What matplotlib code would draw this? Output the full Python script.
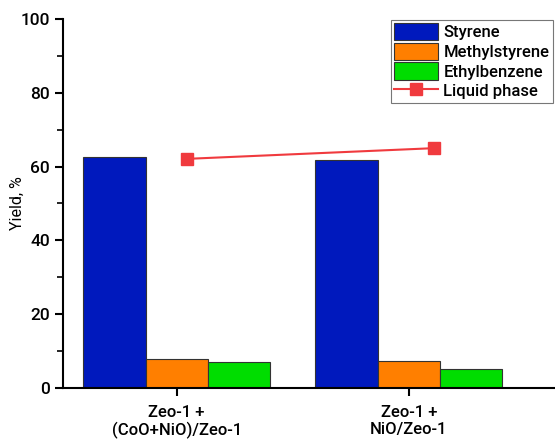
import matplotlib
matplotlib.use("Agg")
import matplotlib.pyplot as plt
import numpy as np

categories = ["Zeo-1 +\n(CoO+NiO)/Zeo-1", "Zeo-1 +\nNiO/Zeo-1"]
styrene = [62.6, 61.9]
methylstyrene = [7.8, 7.4]
ethylbenzene = [7.0, 5.1]
liquid_x = [0.045, 1.11]
liquid_phase = [62.1, 65.0]

plt.rcParams['font.family'] = ['Roboto', 'DejaVu Sans']
plt.rcParams['font.weight'] = 'medium'

fig = plt.figure(figsize=(5.55, 4.4), dpi=100)
ax = fig.add_axes([63/555, 1-388/440, 1-63/555, (388-19)/440])

x = np.arange(len(categories))
w = 0.268
b1 = ax.bar(x - w, styrene, w, color='#0019BD', edgecolor='#333333', linewidth=0.8, label='Styrene', zorder=2)
b2 = ax.bar(x, methylstyrene, w, color='#FF7F00', edgecolor='#333333', linewidth=0.8, label='Methylstyrene', zorder=2)
b3 = ax.bar(x + w, ethylbenzene, w, color='#00DD00', edgecolor='#333333', linewidth=0.8, label='Ethylbenzene', zorder=2)
l1, = ax.plot(liquid_x, liquid_phase, color='#F03A3E', marker='s', markersize=8, linewidth=1.5, label='Liquid phase', zorder=3)

ax.set_xlim(-0.49, 1.63)
ax.set_ylim(0, 100)
ax.set_yticks([0, 20, 40, 60, 80, 100])
ax.set_yticks([10, 30, 50, 70, 90], minor=True)
ax.set_xticks(x)
ax.set_xticklabels(categories, fontsize=12)
ax.tick_params(axis='y', labelsize=12.5, width=1.5, length=6)
ax.tick_params(axis='y', which='minor', width=1.2, length=4)
ax.tick_params(axis='x', width=1.5, length=6, pad=6)
for s in ['top', 'right']:
    ax.spines[s].set_visible(False)
for s in ['left', 'bottom']:
    ax.spines[s].set_linewidth(1.5)
ax.set_ylabel('Yield, %', fontsize=11.5)
ax.yaxis.set_label_coords(-0.077, 0.5)

leg = ax.legend([b1, b2, b3, l1], ['Styrene', 'Methylstyrene', 'Ethylbenzene', 'Liquid phase'],
                loc='upper right', bbox_to_anchor=(0.997, 1.0), fontsize=12, frameon=True, fancybox=False,
                edgecolor='#555555', handlelength=2.6, handleheight=1.2, borderpad=0.2,
                labelspacing=0.15, handletextpad=0.35, borderaxespad=0.05)
leg.get_frame().set_linewidth(0.8)

fig.savefig('out.png', dpi=100)
